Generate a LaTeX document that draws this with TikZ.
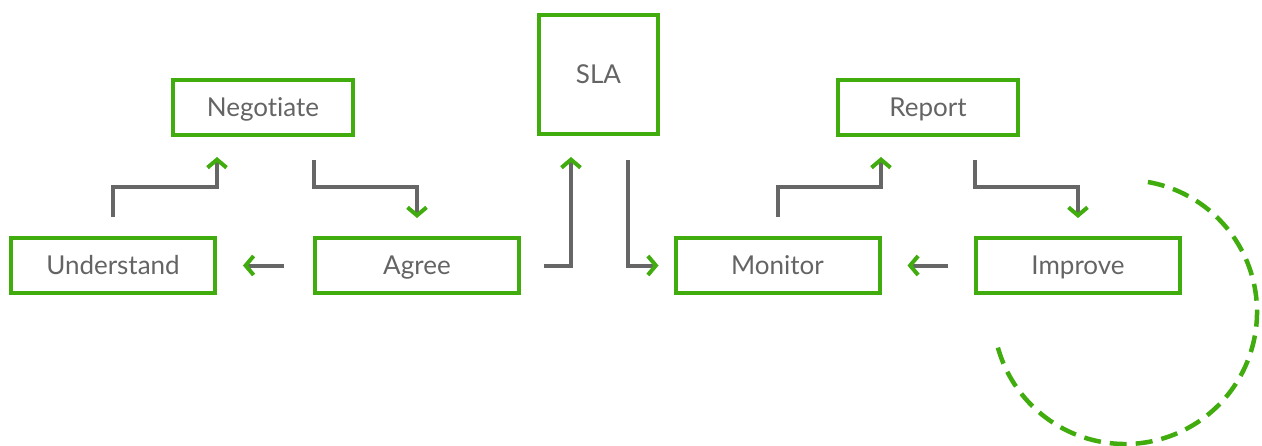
\documentclass[tikz,border=0pt]{standalone}
\usepackage{fontspec}
\setmainfont{Lato}[Ligatures={NoCommon,NoRare}]
\usetikzlibrary{arrows.meta,calc}
\definecolor{brandgreen}{RGB}{64,172,14}
\definecolor{linegray}{RGB}{102,102,102}
\definecolor{textgray}{RGB}{100,100,100}
\tikzset{
  box/.style={draw=brandgreen, line width=4pt, rectangle, inner sep=0pt,
    minimum height=55pt, text=textgray, font=\fontsize{26}{30}\selectfont,
    text height=18.7pt, text depth=0pt},
  wide/.style={box, minimum width=204pt},
  mid/.style={box, minimum width=180pt},
  arr/.style={draw=linegray, line width=4pt,
    -{Straight Barb[color=brandgreen, length=8pt, width=19pt, line width=4pt]}},
  dashring/.style={draw=brandgreen, line width=4.5pt, dash pattern=on 17pt off 9pt}
}
\begin{document}
\begin{tikzpicture}[x=1pt,y=-1pt]
\useasboundingbox (0,0) rectangle (1262,445);
\node[mid] (neg) at (263,107.5) {Negotiate};
\node[box, minimum width=119pt, minimum height=119pt] (sla) at (598.5,74.5) {SLA};
\node[mid] (rep) at (928,107.5) {Report};
\node[wide] (und) at (113,265.5) {Understand};
\node[wide] (agr) at (417,265.5) {Agree};
\node[wide] (mon) at (777.5,265.5) {Monitor};
\node[wide] (imp) at (1078,265.5) {Improve};

\draw[arr] ($(und.north)+(0,-19)$) |- ($(neg.south)+(-46,50)$) -- ($(neg.south)+(-46,20)$);
\draw[arr] ($(neg.south)+(51,23)$) |- ($(agr.north)+(0,-49)$) -- ($(agr.north)+(0,-18)$);
\draw[arr] ($(agr.west)+(-29,0)$) -- ($(und.east)+(26,0)$);
\draw[arr] ($(agr.east)+(23,0)$) -| ($(sla.south)+(-27.5,21)$);
\draw[arr] ($(sla.south)+(29.5,24)$) |- ($(mon.west)+(-15,0)$);
\draw[arr] ($(mon.north)+(0,-19)$) |- ($(rep.south)+(-47,50)$) -- ($(rep.south)+(-47,20)$);
\draw[arr] ($(rep.south)+(47,23)$) |- ($(imp.north)+(0,-49)$) -- ($(imp.north)+(0,-18)$);
\draw[arr] ($(imp.west)+(-26,0)$) -- ($(mon.east)+(26,0)$);

\coordinate (ringc) at (1125,312);
\draw[dashring] (ringc) ++(-80:132) arc[start angle=-80, end angle=165.5, radius=132];
\end{tikzpicture}
\end{document}
